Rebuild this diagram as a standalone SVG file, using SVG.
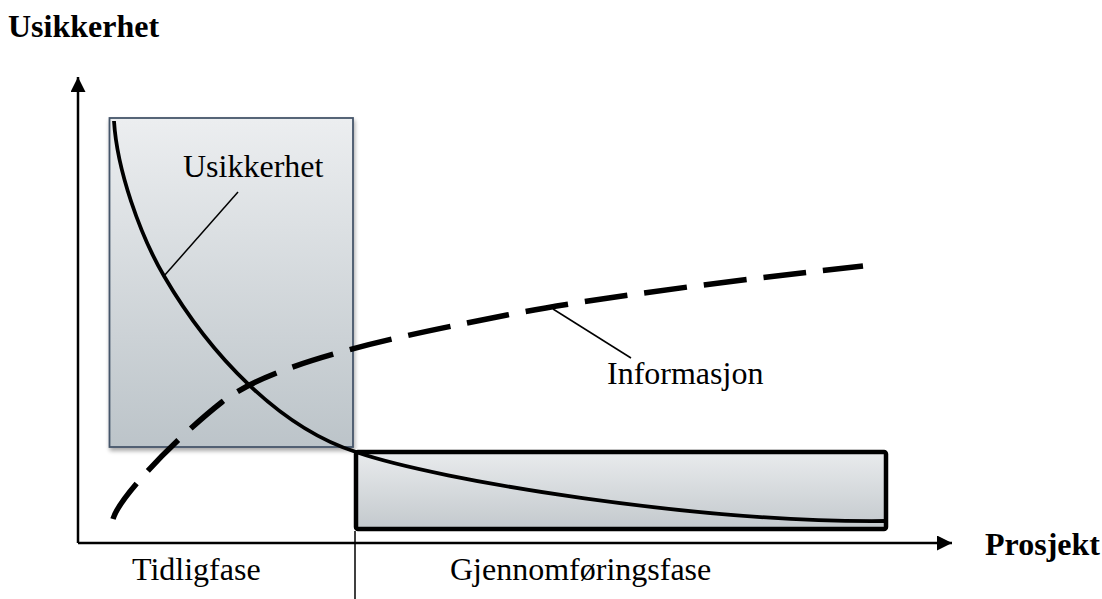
<svg xmlns="http://www.w3.org/2000/svg" width="1102" height="599" viewBox="0 0 1102 599">
  <defs>
    <linearGradient id="gradEarly" x1="0" y1="0" x2="0" y2="1">
      <stop offset="0" stop-color="#eceef0"/>
      <stop offset="1" stop-color="#bcc4c9"/>
    </linearGradient>
    <linearGradient id="gradExec" x1="0" y1="0" x2="0" y2="1">
      <stop offset="0" stop-color="#e9ebed"/>
      <stop offset="1" stop-color="#c3c9cd"/>
    </linearGradient>
    <filter id="shadow" x="-10%" y="-10%" width="120%" height="120%">
      <feGaussianBlur in="SourceAlpha" stdDeviation="2"/>
      <feOffset dx="1" dy="3" result="b"/>
      <feComponentTransfer><feFuncA type="linear" slope="0.35"/></feComponentTransfer>
      <feMerge><feMergeNode/><feMergeNode in="SourceGraphic"/></feMerge>
    </filter>
    <marker id="arrow" viewBox="0 0 10 10" refX="10" refY="5" markerWidth="15" markerHeight="15" markerUnits="userSpaceOnUse" orient="auto">
      <path d="M0,0 L10,5 L0,10 Z" fill="#000"/>
    </marker>
  </defs>
  <style>
    .lbl { font-family: "Liberation Serif", "Times New Roman", serif; font-size: 32px; fill: #000; }
    .bold { font-weight: bold; }
    .axis { stroke: #000; stroke-width: 2.5; fill: none; }
    .leader { stroke: #000; stroke-width: 1.5; fill: none; }
    .thin { stroke: #000; stroke-width: 1.5; fill: none; }
  </style>

  <rect width="1102" height="599" fill="#fff"/>

  <!-- phase boxes -->
  <g id="phase-early">
    <rect x="109.5" y="118" width="243.5" height="329" fill="url(#gradEarly)" stroke="#45566a" stroke-width="1.8" filter="url(#shadow)"/>
  </g>
  <g id="phase-execution">
    <rect x="356" y="452" width="530" height="77" rx="2" fill="url(#gradExec)" stroke="#000" stroke-width="4.5"/>
  </g>

  <!-- axes and curves -->
  <g id="connectors">
    <line class="axis" x1="78" y1="543" x2="78" y2="77" marker-end="url(#arrow)"/>
    <line class="axis" x1="78" y1="543" x2="952" y2="543" marker-end="url(#arrow)"/>
    <line class="thin" x1="355" y1="531" x2="355" y2="599"/>

    <!-- uncertainty curve -->
    <path d="M114,121 C117,170 140,235 164,276 C210,355 280,428 356,452 C440,481 700,523 886,521" fill="none" stroke="#000" stroke-width="3.8"/>

    <!-- information curve -->
    <path d="M113,519 C120,495 180,435 222,402 C277,359 417,333 507,315 C597,297 763,277 863,266" fill="none" stroke="#000" stroke-width="5.5" stroke-dasharray="43 17"/>

    <!-- label leaders -->
    <line class="leader" x1="238" y1="192" x2="164" y2="276"/>
    <line class="leader" x1="553" y1="309" x2="631" y2="358"/>
  </g>

  <!-- labels -->
  <g id="label-y-axis"><text class="lbl bold" x="8" y="37">Usikkerhet</text></g>
  <g id="label-x-axis"><text class="lbl bold" x="985" y="555">Prosjekt</text></g>
  <g id="label-uncertainty"><text class="lbl" x="183" y="177">Usikkerhet</text></g>
  <g id="label-information"><text class="lbl" x="607" y="384">Informasjon</text></g>
  <g id="label-early"><text class="lbl" x="132" y="580">Tidligfase</text></g>
  <g id="label-execution"><text class="lbl" x="450" y="580">Gjennomføringsfase</text></g>
</svg>
